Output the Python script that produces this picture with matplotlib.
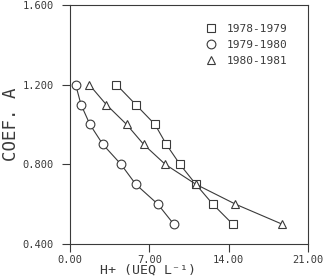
import matplotlib
matplotlib.use("Agg")
import matplotlib.pyplot as plt
from matplotlib.lines import Line2D

# Data
series_labels = ["1978-1979", "1979-1980", "1980-1981"]
markers = ["s", "o", "^"]

x_7879 = [4.1, 5.8, 7.5, 8.5, 9.7, 11.1, 12.6, 14.35]
y_7879 = [1.2, 1.1, 1.0, 0.9, 0.8, 0.7, 0.6, 0.5]

x_7980 = [0.5, 0.97, 1.76, 2.9, 4.5, 5.8, 7.75, 9.15]
y_7980 = [1.2, 1.1, 1.0, 0.9, 0.8, 0.7, 0.6, 0.5]

x_8081 = [1.7, 3.2, 5.0, 6.5, 8.4, 11.1, 14.6, 18.7]
y_8081 = [1.2, 1.1, 1.0, 0.9, 0.8, 0.7, 0.6, 0.5]

x_ticks = [0, 7, 14, 21]
x_ticklabels = ["0.00", "7.00", "14.00", "21.00"]
y_ticks = [0.4, 0.8, 1.2, 1.6]
y_ticklabels = ["0.400", "0.800", "1.200", "1.600"]

xs = [x_7879, x_7980, x_8081]
ys = [y_7879, y_7980, y_8081]

ink = "#3a3a3a"
font = "DejaVu Sans Mono"

fig = plt.figure(figsize=(3.3, 2.78), dpi=100)
ax = fig.add_axes([70 / 330, 1 - 244 / 278, 238 / 330, 239 / 278])

for x, y, m in zip(xs, ys, markers):
    ax.plot(x, y, color=ink, lw=0.8, marker=m, ms=6.3, mfc="white",
            mec=ink, mew=0.8)

ax.set_xlim(0, 21)
ax.set_ylim(0.4, 1.6)
ax.set_xticks(x_ticks)
ax.set_xticklabels(x_ticklabels, fontfamily=font, fontsize=7.5, color=ink)
ax.set_yticks(y_ticks)
ax.set_yticklabels(y_ticklabels, fontfamily=font, fontsize=7.5, color=ink)
ax.tick_params(direction="out", length=5.5, width=0.8, color=ink)
ax.tick_params(axis="y", pad=6)
ax.tick_params(axis="x", pad=2.5)
for s in ax.spines.values():
    s.set_color(ink)
    s.set_linewidth(0.8)

fig.text(11 / 330, 1 - 124 / 278, "COEF. A", fontfamily=font, fontsize=12.5,
         color=ink, rotation=90, ha="center", va="center")
fig.text(148 / 330, 1 - 270.5 / 278, "H+ (UEQ L\u207b\u00b9)", fontfamily=font,
         fontsize=9.5, color=ink, ha="center", va="center")

handles = [Line2D([], [], ls="none", marker=m, ms=6.3, mfc="white", mec=ink,
                  mew=0.8) for m in markers]
leg = ax.legend(handles, series_labels, loc="upper left",
                bbox_to_anchor=(0.55, 0.94), frameon=False,
                prop={"family": font, "size": 8}, handlelength=1.0,
                handletextpad=0.9, labelspacing=0.55, borderaxespad=0)
for t in leg.get_texts():
    t.set_color(ink)

fig.savefig("out.png", dpi=100)
